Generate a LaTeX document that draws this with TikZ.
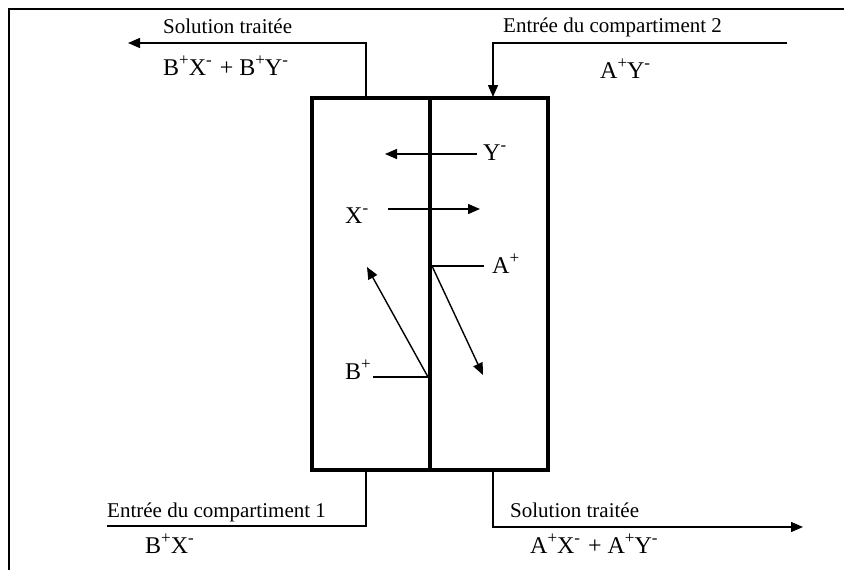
\documentclass[tikz,border=0pt]{standalone}
\usepackage{fontspec}
\setmainfont{Liberation Serif}
\usetikzlibrary{arrows.meta}

\newcommand{\ion}[2]{#1\raisebox{0.4em}{\fontsize{17}{17}\selectfont #2}}
\newcommand{\plus}{\hspace{8pt}+\hspace{6pt}}

\begin{document}
\begin{tikzpicture}[x=1pt,y=-1pt,
  flow/.style={line width=1.4pt},
  wall/.style={line width=4pt},
  lbl/.style={font=\fontsize{21}{24}\selectfont,inner sep=0pt,anchor=base west},
  chem/.style={lbl,font=\fontsize{24}{28}\selectfont},
  >={Triangle[length=12pt,width=10pt]}]
\useasboundingbox (0,0) rectangle (844,570);
% frame
\draw[line width=1.5pt] (9,570) -- (9,9) -- (844,9);
% cell and membrane
\draw[wall] (312,98) rectangle (548,470);
\draw[wall] (430,98) -- (430,470);

% top left outlet
\coordinate (out1s) at (366,98);
\coordinate (out1e) at (128,43);
\draw[flow,->] (out1s) |- (out1e);
\node[lbl] (sol1) at (163,34) {Solution traitée};
\node[chem] (mix1) at (163,75) {\ion{B}{+}\ion{X}{-}\plus\ion{B}{+}\ion{Y}{-}};

% top right inlet
\coordinate (in2s) at (787,43);
\coordinate (in2e) at (493,97);
\draw[flow,->] (in2s) -| (in2e);
\node[lbl] (ent2) at (503,32) {Entrée du compartiment 2};
\node[chem] (feed2) at (600,78) {\ion{A}{+}\ion{Y}{-}};

% bottom left inlet
\coordinate (in1s) at (107,526);
\coordinate (in1e) at (366,470);
\draw[flow] (in1s) -| (in1e);
\node[lbl] (ent1) at (107,517) {Entrée du compartiment 1};
\node[chem] (feed1) at (145,553) {\ion{B}{+}\ion{X}{-}};

% bottom right outlet
\coordinate (out2s) at (493,470);
\coordinate (out2e) at (803,527);
\draw[flow,->] (out2s) |- (out2e);
\node[lbl] (sol2) at (510,517) {Solution traitée};
\node[chem] (mix2) at (530,553) {\ion{A}{+}\ion{X}{-}\plus\ion{A}{+}\ion{Y}{-}};

% anions across the membrane
\node[chem] (yion) at (483,160) {\ion{Y}{-}};
\coordinate (ys) at (477,154);
\coordinate (ye) at (385,154);
\draw[flow,->] (ys) -- (ye);
\node[chem] (xion) at (345,223) {\ion{X}{-}};
\coordinate (xs) at (388,209);
\coordinate (xe) at (480,209);
\draw[flow,->] (xs) -- (xe);

% cations
\node[chem] (aion) at (492,273) {\ion{A}{+}};
\coordinate (aj) at (432,266);
\coordinate (al) at (484,266);
\coordinate (ae) at (483,375);
\draw[flow] (aj) -- (al);
\draw[flow,->] (aj) -- (ae);
\node[chem] (bion) at (345,379) {\ion{B}{+}};
\coordinate (bj) at (428,377);
\coordinate (bl) at (373,377);
\coordinate (be) at (367,267);
\draw[flow] (bl) -- (bj);
\draw[flow,->] (bj) -- (be);
\end{tikzpicture}
\end{document}
